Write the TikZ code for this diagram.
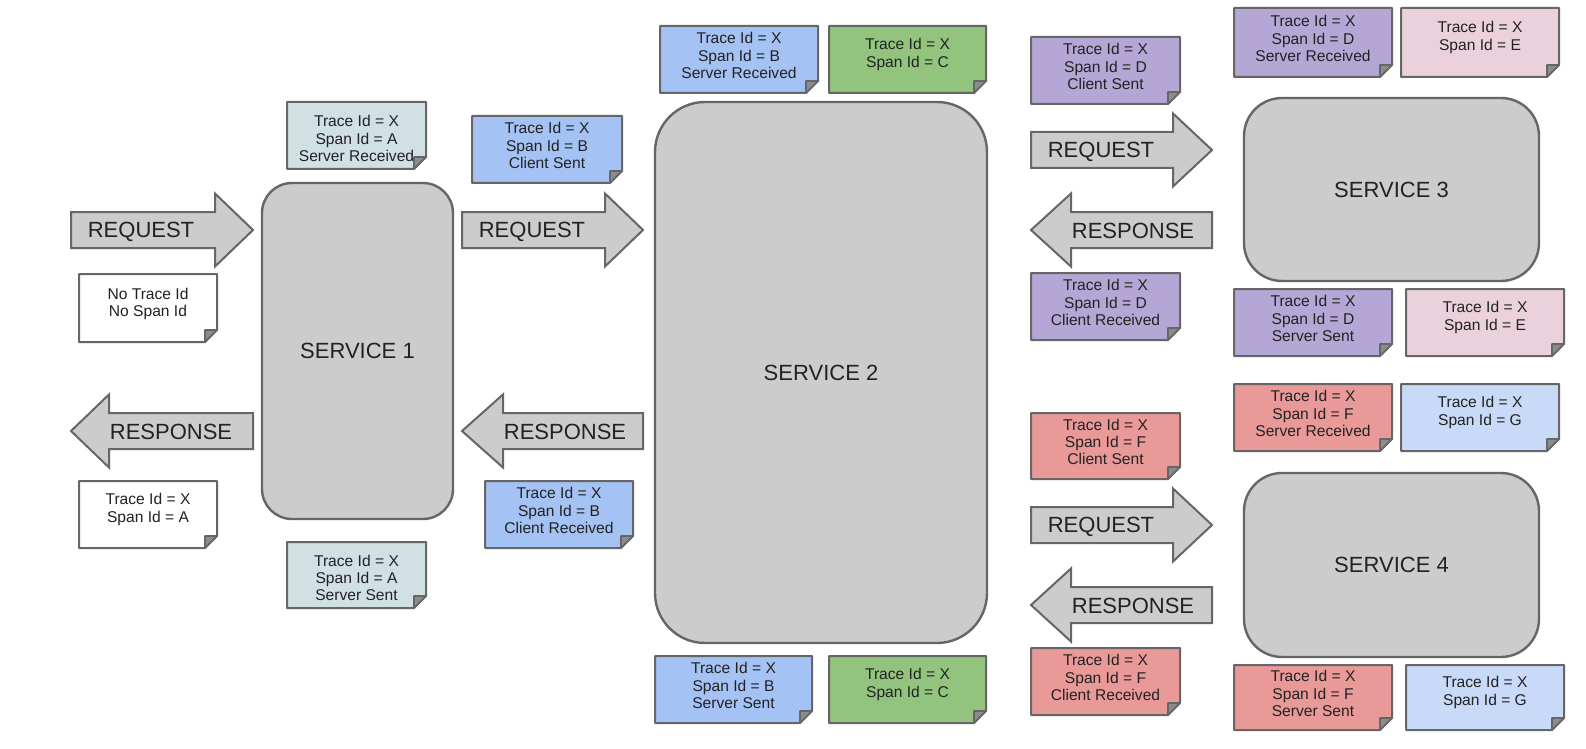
\documentclass[tikz,border=0pt]{standalone}
\usepackage{fontspec}
\setmainfont{Liberation Sans}
\usetikzlibrary{calc}
\definecolor{cA}{HTML}{D0E0E3}
\definecolor{cB}{HTML}{A4C2F4}
\definecolor{cC}{HTML}{93C47D}
\definecolor{cD}{HTML}{B4A7D6}
\definecolor{cE}{HTML}{EAD1DC}
\definecolor{cF}{HTML}{EA9999}
\definecolor{cG}{HTML}{C9DAF8}
\definecolor{boxgray}{HTML}{CCCCCC}
\definecolor{edgegray}{HTML}{666666}
\definecolor{txt}{HTML}{222222}
\tikzset{
  notetext/.style={font=\fontsize{7.8}{8.6}\selectfont, align=center, text=txt, inner sep=0pt},
  noteshape/.style={draw=edgegray, line width=1pt, line join=round},
  notefold/.style={fill=black!45, draw=edgegray, line width=0.8pt, line join=round},
  service/.style={draw=edgegray, fill=boxgray, line width=1.2pt, font=\fontsize{11}{13}\selectfont, text=txt, inner sep=0pt},
  blockarrow/.style={draw=edgegray, fill=boxgray, line width=1pt, line join=miter},
  arrowlabel/.style={font=\fontsize{11}{13}\selectfont, text=txt, inner sep=0pt},
}
% name x1 y1 x2 y2 colour text yoffset
\newcommand\notebox[8]{%
  \draw[noteshape, fill=#6] (#2,#3) -- (#4,#3) -- (#4,{#5-12}) -- ({#4-12},#5) -- (#2,#5) -- cycle;
  \draw[notefold] (#4,{#5-12}) -- ({#4-12},#5) -- ({#4-12},{#5-12}) -- cycle;
  \node[notetext] (#1) at ({(#2+#4)/2},{(#3+#5)/2+#8}) {#7};
}
% name x0 xbase xtip cy
\newcommand\reqarrow[5]{%
  \draw[blockarrow] (#2,{#5-18}) -- (#3,{#5-18}) -- (#3,{#5-36.5}) -- (#4,#5) -- (#3,{#5+36.5}) -- (#3,{#5+18}) -- (#2,{#5+18}) -- cycle;
  \node[arrowlabel] (#1) at ({#2+70},{#5+2}) {REQUEST};
}
% name xtip xbase xend cy
\newcommand\resarrow[5]{%
  \draw[blockarrow] (#2,#5) -- (#3,{#5-36.5}) -- (#3,{#5-18}) -- (#4,{#5-18}) -- (#4,{#5+18}) -- (#3,{#5+18}) -- (#3,{#5+36.5}) -- cycle;
  \node[arrowlabel] (#1) at ({#3+62},{#5+1}) {RESPONSE};
}
\begin{document}
\begin{tikzpicture}[x=0.5pt,y=-0.5pt]
\useasboundingbox (0,0) rectangle (1586,749);
\fill[white] (0,0) rectangle (1586,749);

% services
\node[service, rounded corners=15pt, minimum width=95.5pt, minimum height=168pt] (s1) at (357.5,351) {SERVICE 1};
\node[service, rounded corners=25pt, minimum width=166pt, minimum height=270.5pt] (s2) at (821,372.5) {SERVICE 2};
\node[service, rounded corners=19pt, minimum width=147.5pt, minimum height=91.5pt] (s3) at (1391.5,189.5) {SERVICE 3};
\node[service, rounded corners=19pt, minimum width=147.5pt, minimum height=92pt] (s4) at (1391.5,565) {SERVICE 4};

% arrows
\reqarrow{req1}{71}{215}{253}{230}
\resarrow{res1}{71}{109}{253}{431}
\reqarrow{req2}{462}{605}{643}{230}
\resarrow{res2}{462}{503}{643}{431}
\reqarrow{req3}{1031}{1173}{1212}{150}
\resarrow{res3}{1031}{1071}{1212}{230}
\reqarrow{req4}{1031}{1173}{1212}{525}
\resarrow{res4}{1031}{1071}{1212}{605}

% notes
\notebox{nAsr}{287}{102}{426}{169}{cA}{Trace Id = X\\Span Id = A\\Server Received}{3}
\notebox{nNo}{79}{274}{217}{342}{white}{No Trace Id\\No Span Id}{-4}
\notebox{nAresp}{79}{481}{217}{548}{white}{Trace Id = X\\Span Id = A}{-5}
\notebox{nAss}{287}{542}{426}{608}{cA}{Trace Id = X\\Span Id = A\\Server Sent}{3}
\notebox{nBcs}{472}{116}{622}{183}{cB}{Trace Id = X\\Span Id = B\\Client Sent}{-4}
\notebox{nBcr}{485}{481}{633}{548}{cB}{Trace Id = X\\Span Id = B\\Client Received}{-4}
\notebox{nBsr}{660}{26}{818}{93}{cB}{Trace Id = X\\Span Id = B\\Server Received}{-4}
\notebox{nCt}{829}{26}{986}{93}{cC}{Trace Id = X\\Span Id = C}{-5}
\notebox{nBss}{655}{656}{812}{723}{cB}{Trace Id = X\\Span Id = B\\Server Sent}{-4}
\notebox{nCb}{829}{656}{986}{723}{cC}{Trace Id = X\\Span Id = C}{-5}
\notebox{nDcs}{1031}{37}{1180}{104}{cD}{Trace Id = X\\Span Id = D\\Client Sent}{-4}
\notebox{nDsr}{1234}{8}{1392}{77}{cD}{Trace Id = X\\Span Id = D\\Server Received}{-4}
\notebox{nEt}{1401}{8}{1559}{77}{cE}{Trace Id = X\\Span Id = E}{-5}
\notebox{nDcr}{1031}{273}{1180}{340}{cD}{Trace Id = X\\Span Id = D\\Client Received}{-4}
\notebox{nDss}{1234}{289}{1392}{356}{cD}{Trace Id = X\\Span Id = D\\Server Sent}{-4}
\notebox{nEb}{1406}{289}{1564}{356}{cE}{Trace Id = X\\Span Id = E}{-5}
\notebox{nFcs}{1031}{413}{1180}{479}{cF}{Trace Id = X\\Span Id = F\\Client Sent}{-4}
\notebox{nFsr}{1234}{384}{1392}{451}{cF}{Trace Id = X\\Span Id = F\\Server Received}{-4}
\notebox{nGt}{1401}{384}{1559}{451}{cG}{Trace Id = X\\Span Id = G}{-5}
\notebox{nFcr}{1031}{648}{1180}{715}{cF}{Trace Id = X\\Span Id = F\\Client Received}{-4}
\notebox{nFss}{1234}{665}{1392}{730}{cF}{Trace Id = X\\Span Id = F\\Server Sent}{-4}
\notebox{nGb}{1406}{665}{1564}{730}{cG}{Trace Id = X\\Span Id = G}{-5}
\end{tikzpicture}
\end{document}
